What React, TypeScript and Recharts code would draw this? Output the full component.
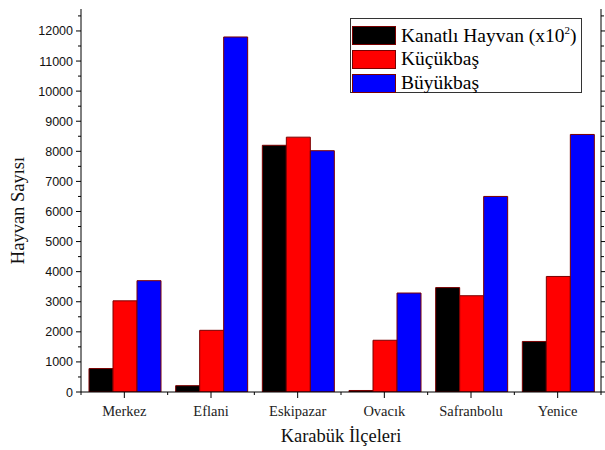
import { BarChart, Bar, XAxis, YAxis, Label } from "recharts";

const districts = ["Merkez", "Eflani", "Eskipazar", "Ovacık", "Safranbolu", "Yenice"];
const kanatli = [780, 210, 8200, 50, 3470, 1680];
const kucukbas = [3030, 2050, 8470, 1720, 3200, 3840];
const buyukbas = [3700, 11800, 8020, 3290, 6500, 8560];
const yTicks = [0, 500, 1000, 1500, 2000, 2500, 3000, 3500, 4000, 4500, 5000, 5500, 6000, 6500, 7000, 7500, 8000, 8500, 9000, 9500, 10000, 10500, 11000, 11500, 12000, 12500];
const yMax = 12730;

const series = [
  { key: "kanatli", name: "Kanatlı Hayvan", fill: "#000000" },
  { key: "kucukbas", name: "Küçükbaş", fill: "#ff0000" },
  { key: "buyukbas", name: "Büyükbaş", fill: "#0000ff" },
];

const data = districts.map((name, i) => ({
  name,
  kanatli: kanatli[i],
  kucukbas: kucukbas[i],
  buyukbas: buyukbas[i],
}));

const SERIF = "'Liberation Serif', 'Times New Roman', serif";
const SANS = "'Liberation Sans', Arial, sans-serif";
const EDGE = "#7a0000";

function XTick(props: any) {
  const { x, y, payload, index, visibleTicksCount, side } = props;
  const half = payload?.offset ?? 43.3;
  const dir = side === "top" ? -1 : 1;
  const last = index === visibleTicksCount - 1;
  return (
    <g>
      <line x1={x} x2={x} y1={y} y2={y + dir * 6} stroke="#000" />
      <line x1={x - half} x2={x - half} y1={y} y2={y + dir * 3} stroke="#000" />
      {last && <line x1={x + half} x2={x + half} y1={y} y2={y + dir * 3} stroke="#000" />}
      {side !== "top" && (
        <text x={x} y={y + 24} textAnchor="middle" fontFamily={SERIF} fontSize={14.5} fill="#222">
          {payload.value}
        </text>
      )}
    </g>
  );
}

function YTick(props: any) {
  const { x, y, payload, side } = props;
  const major = payload.value % 1000 === 0;
  const len = major ? 5 : 3;
  const dir = side === "right" ? 1 : -1;
  return (
    <g>
      <line x1={x} x2={x + dir * len} y1={y} y2={y} stroke="#000" />
      {side !== "right" && major && (
        <text x={x - 8} y={y} dy={4.5} textAnchor="end" fontFamily={SANS} fontSize={12.5} fill="#111">
          {payload.value}
        </text>
      )}
    </g>
  );
}

function LegendBox() {
  return (
    <div
      style={{
        position: "absolute",
        left: 350,
        top: 18,
        width: 232,
        height: 75,
        border: "1px solid #333",
        background: "#fff",
        boxSizing: "border-box",
        paddingTop: 4,
      }}
    >
      {series.map((s, i) => (
        <div key={s.key} style={{ display: "flex", alignItems: "center", height: 24 }}>
          <div style={{ width: 42, height: 17, background: s.fill, border: `1px solid ${EDGE}`, marginLeft: 1 }} />
          <span style={{ fontFamily: SERIF, fontSize: 19.5, marginLeft: 5, color: "#000", whiteSpace: "nowrap" }}>
            {s.name}
            {i === 0 && (
              <>
                {" (x10"}
                <sup style={{ fontSize: 11 }}>2</sup>
                {")"}
              </>
            )}
          </span>
        </div>
      ))}
    </div>
  );
}

export default function App() {
  return (
    <div style={{ position: "absolute", left: 0, top: 0, width: 605, height: 450, background: "#fff" }}>
      <BarChart width={605} height={450} data={data} margin={{ top: 9, right: 0, left: 0, bottom: 0 }} barGap={0} barCategoryGap={8}>
        <XAxis
          dataKey="name"
          height={58}
          axisLine={{ stroke: "#000" }}
          tickLine={false}
          tickSize={0}
          tickMargin={0}
          interval={0}
          tick={<XTick side="bottom" />}
        >
          <Label value="Karabük İlçeleri" position="insideBottom" offset={8} style={{ fontFamily: SERIF, fontSize: 18.5, fill: "#111" }} />
        </XAxis>
        <XAxis
          xAxisId="top"
          orientation="top"
          dataKey="name"
          height={0}
          axisLine={{ stroke: "#000" }}
          tickLine={false}
          tickSize={0}
          tickMargin={0}
          interval={0}
          tick={<XTick side="top" />}
        />
        <YAxis
          width={81}
          domain={[0, yMax]}
          ticks={yTicks}
          interval={0}
          allowDataOverflow
          axisLine={{ stroke: "#000" }}
          tickLine={false}
          tickSize={0}
          tickMargin={0}
          tick={<YTick side="left" />}
        >
          <Label
            content={({ viewBox }: any) => (
              <text
                x={viewBox.x + 18}
                y={viewBox.y + viewBox.height / 2 + 10}
                transform={`rotate(-90, ${viewBox.x + 18}, ${viewBox.y + viewBox.height / 2 + 10})`}
                textAnchor="middle"
                dominantBaseline="central"
                fontFamily={SERIF}
                fontSize={18.5}
                fill="#111"
              >
                Hayvan Sayısı
              </text>
            )}
          />
        </YAxis>
        <YAxis
          yAxisId="right"
          orientation="right"
          width={4}
          domain={[0, yMax]}
          ticks={yTicks}
          interval={0}
          allowDataOverflow
          axisLine={{ stroke: "#000" }}
          tickLine={false}
          tickSize={0}
          tickMargin={0}
          tick={<YTick side="right" />}
        />
        {series.map((s) => (
          <Bar key={s.key} dataKey={s.key} name={s.name} fill={s.fill} stroke={EDGE} strokeWidth={1} isAnimationActive={false} />
        ))}
      </BarChart>
      <LegendBox />
    </div>
  );
}
